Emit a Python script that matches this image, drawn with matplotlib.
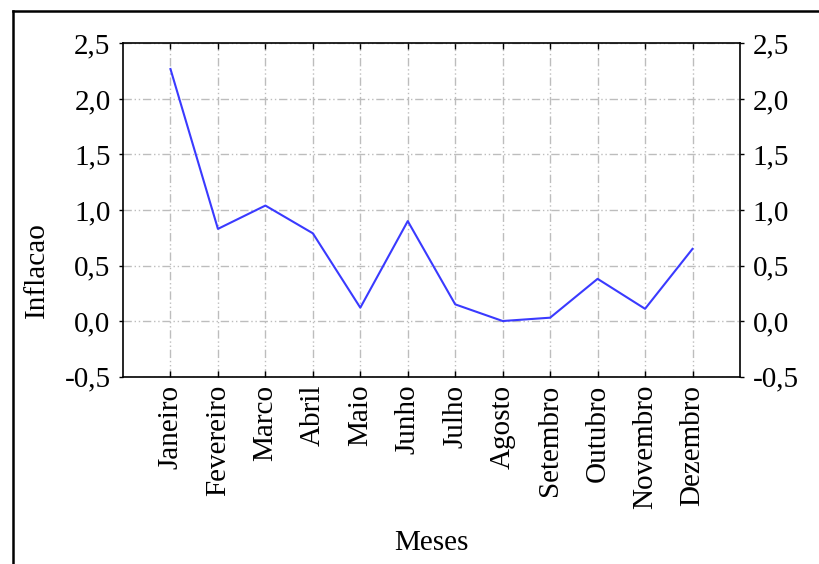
import numpy as np
import matplotlib
matplotlib.use('Agg')
import matplotlib.pyplot as plt
from matplotlib.ticker import FuncFormatter
from matplotlib.lines import Line2D

meses = ['Janeiro', 'Fevereiro', 'Marco', 'Abril', 'Maio', 'Junho',
         'Julho', 'Agosto', 'Setembro', 'Outubro', 'Novembro', 'Dezembro']
inflacao = [2.27, 0.83, 1.04, 0.79, 0.12, 0.90, 0.15, 0.00, 0.03, 0.38, 0.11, 0.65]
y_ticks = [-0.5, 0.0, 0.5, 1.0, 1.5, 2.0, 2.5]

plt.rcParams['font.family'] = ['Liberation Serif', 'DejaVu Serif']
plt.rcParams['font.size'] = 21

fig = plt.figure(figsize=(8.19, 5.64), dpi=100)
fig.patch.set_facecolor('white')
ax = fig.add_axes([0.1502, 0.3324, 0.7533, 0.5905])

x = np.arange(1, len(meses) + 1)
ax.plot(x, inflacao, color='#3a3aff', lw=1.5, zorder=3)

ax.set_xlim(0, len(meses) + 1)
ax.set_ylim(-0.5, 2.5)
ax.set_xticks(x)
ax.set_xticklabels(meses, rotation=90)
ax.set_yticks(y_ticks)
ax.yaxis.set_major_formatter(FuncFormatter(lambda v, p: f'{v:.1f}'.replace('.', ',')))

# grid in the Statistica dash-dot-dot style
grid_ls = (0, (6, 2, 1, 2, 1, 2))
ax.grid(True, color='#bdbdbd', lw=1.0, ls=grid_ls, zorder=0)

ax.tick_params(axis='y', which='both', direction='out', length=3, width=1,
               left=True, right=True, labelleft=True, labelright=True, pad=6)
ax.tick_params(axis='x', direction='in', length=4, width=1,
               top=True, bottom=True, pad=6)
for s in ax.spines.values():
    s.set_linewidth(1.2)
    s.set_color('black')

ax.set_xlabel('Meses')
ax.set_ylabel('Inflacao')
ax.xaxis.set_label_coords(0.5, -0.46)
ax.yaxis.set_label_coords(-0.118, 0.32)

# outer frame: top and left border
fw, fh = 819, 564
fig.add_artist(Line2D([13 / fw, 1.0], [1 - 11 / fh, 1 - 11 / fh],
                      transform=fig.transFigure, color='black', lw=1.8))
fig.add_artist(Line2D([13 / fw, 13 / fw], [1 - 11 / fh, 0.0],
                      transform=fig.transFigure, color='black', lw=1.8))

fig.savefig('out.png', dpi=100)
